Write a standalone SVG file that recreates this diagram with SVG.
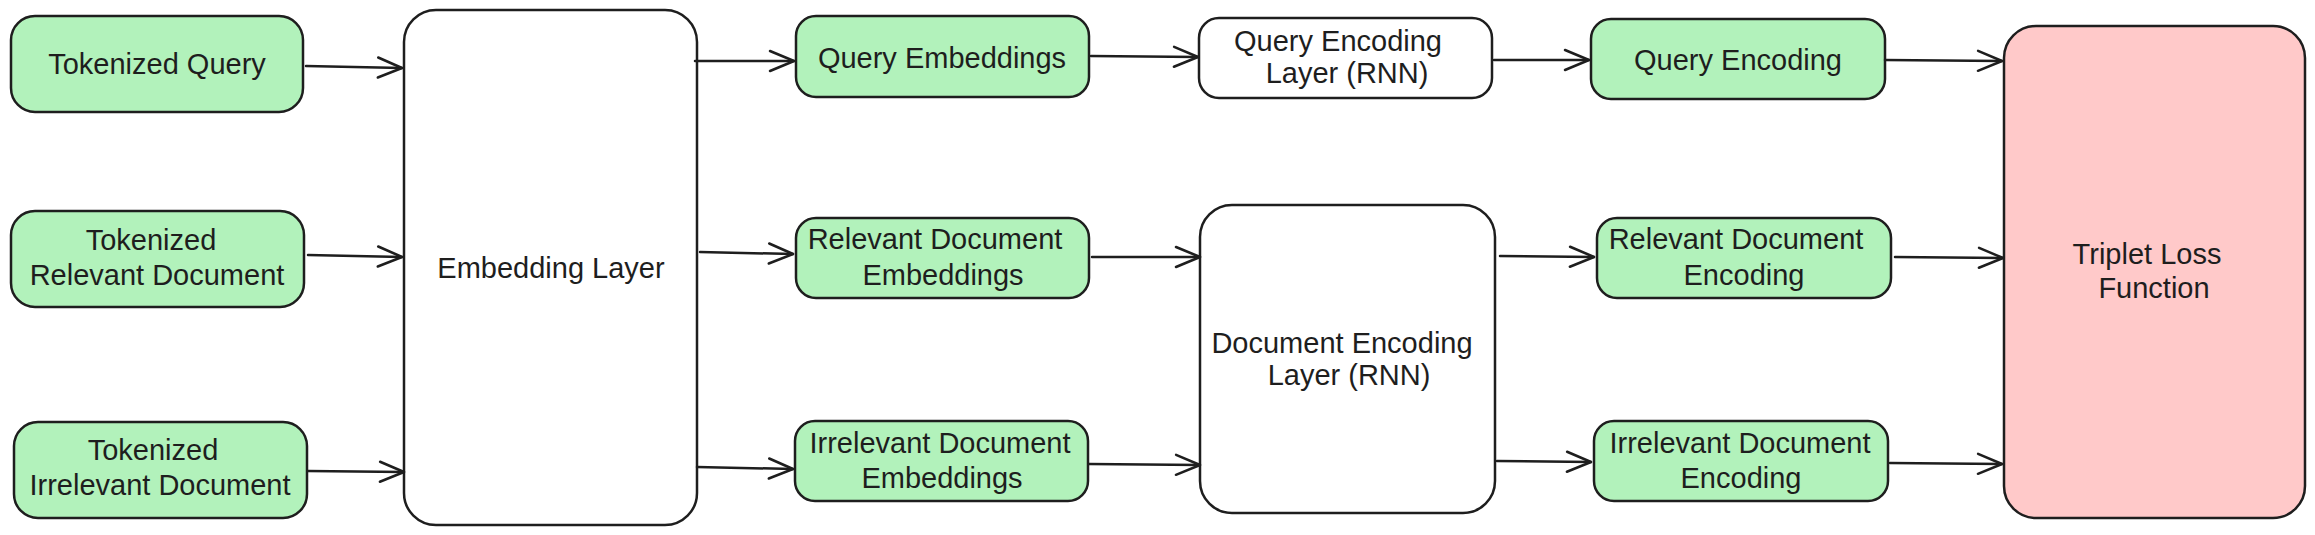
<svg xmlns="http://www.w3.org/2000/svg" width="2315" height="535" viewBox="0 0 2315 535">
<defs>
<style>
.box{stroke:#1e1e1e;stroke-width:2.5;}
.green{fill:#b2f2bb;}
.white{fill:#ffffff;}
.pink{fill:#ffc9c9;}
.lbl{font-family:"Liberation Sans","DejaVu Sans",sans-serif;font-size:29px;fill:#1e1e1e;text-anchor:middle;dominant-baseline:central;}
.conn{stroke:#1e1e1e;stroke-width:2.5;fill:none;stroke-linecap:round;}
</style>
<marker id="arr" markerUnits="userSpaceOnUse" markerWidth="40" markerHeight="30" refX="0" refY="0" viewBox="-30 -15 40 30" orient="auto">
<path d="M -24 -10 L 0 0 L -24 10" fill="none" stroke="#1e1e1e" stroke-width="2.5" stroke-linecap="round" stroke-linejoin="round"/>
</marker>
</defs>
<rect width="2315" height="535" fill="#ffffff"/>

<g id="tokenized-query">
<rect class="box green" x="11" y="16" width="292" height="96" rx="24"/>
<text class="lbl" x="157" y="64">Tokenized Query</text>
</g>
<g id="tokenized-relevant-document">
<rect class="box green" x="11" y="211" width="293" height="96" rx="24"/>
<text class="lbl" x="151" y="240">Tokenized</text>
<text class="lbl" x="157" y="275">Relevant Document</text>
</g>
<g id="tokenized-irrelevant-document">
<rect class="box green" x="14" y="422" width="293" height="96" rx="24"/>
<text class="lbl" x="153" y="450">Tokenized</text>
<text class="lbl" x="160" y="485">Irrelevant Document</text>
</g>
<g id="embedding-layer">
<rect class="box white" x="404" y="10" width="293" height="515" rx="32"/>
<text class="lbl" x="551" y="268">Embedding Layer</text>
</g>
<g id="query-embeddings">
<rect class="box green" x="796" y="16" width="293" height="81" rx="20"/>
<text class="lbl" x="942" y="58">Query Embeddings</text>
</g>
<g id="relevant-document-embeddings">
<rect class="box green" x="796" y="218" width="293" height="80" rx="20"/>
<text class="lbl" x="935" y="239">Relevant Document</text>
<text class="lbl" x="943" y="275">Embeddings</text>
</g>
<g id="irrelevant-document-embeddings">
<rect class="box green" x="795" y="421" width="293" height="80" rx="20"/>
<text class="lbl" x="940" y="443">Irrelevant Document</text>
<text class="lbl" x="942" y="478">Embeddings</text>
</g>
<g id="query-encoding-layer">
<rect class="box white" x="1199" y="18" width="293" height="80" rx="20"/>
<text class="lbl" x="1338" y="41">Query Encoding</text>
<text class="lbl" x="1347" y="73">Layer (RNN)</text>
</g>
<g id="document-encoding-layer">
<rect class="box white" x="1200" y="205" width="295" height="308" rx="32"/>
<text class="lbl" x="1342" y="343">Document Encoding</text>
<text class="lbl" x="1349" y="375">Layer (RNN)</text>
</g>
<g id="query-encoding">
<rect class="box green" x="1591" y="19" width="294" height="80" rx="20"/>
<text class="lbl" x="1738" y="60">Query Encoding</text>
</g>
<g id="relevant-document-encoding">
<rect class="box green" x="1597" y="218" width="294" height="80" rx="20"/>
<text class="lbl" x="1736" y="239">Relevant Document</text>
<text class="lbl" x="1744" y="275">Encoding</text>
</g>
<g id="irrelevant-document-encoding">
<rect class="box green" x="1594" y="421" width="294" height="80" rx="20"/>
<text class="lbl" x="1740" y="443">Irrelevant Document</text>
<text class="lbl" x="1741" y="478">Encoding</text>
</g>
<g id="triplet-loss-function">
<rect class="box pink" x="2004" y="26" width="301" height="492" rx="32"/>
<text class="lbl" x="2147" y="254">Triplet Loss</text>
<text class="lbl" x="2154" y="288">Function</text>
</g>

<g id="connectors">
<path class="conn" marker-end="url(#arr)" d="M 306 66 L 402 68"/>
<path class="conn" marker-end="url(#arr)" d="M 308 255 L 402 257"/>
<path class="conn" marker-end="url(#arr)" d="M 308 471 L 404 472"/>
<path class="conn" marker-end="url(#arr)" d="M 695 61 L 794 61"/>
<path class="conn" marker-end="url(#arr)" d="M 700 252 L 793 254"/>
<path class="conn" marker-end="url(#arr)" d="M 697 467 L 793 469"/>
<path class="conn" marker-end="url(#arr)" d="M 1091 56 L 1198 57"/>
<path class="conn" marker-end="url(#arr)" d="M 1092 257 L 1200 257"/>
<path class="conn" marker-end="url(#arr)" d="M 1089 464 L 1200 465"/>
<path class="conn" marker-end="url(#arr)" d="M 1494 60 L 1589 60"/>
<path class="conn" marker-end="url(#arr)" d="M 1500 256 L 1594 257"/>
<path class="conn" marker-end="url(#arr)" d="M 1497 461 L 1591 462"/>
<path class="conn" marker-end="url(#arr)" d="M 1885 60 L 2002 61"/>
<path class="conn" marker-end="url(#arr)" d="M 1895 257 L 2003 258"/>
<path class="conn" marker-end="url(#arr)" d="M 1890 463 L 2002 464"/>
</g>
</svg>
